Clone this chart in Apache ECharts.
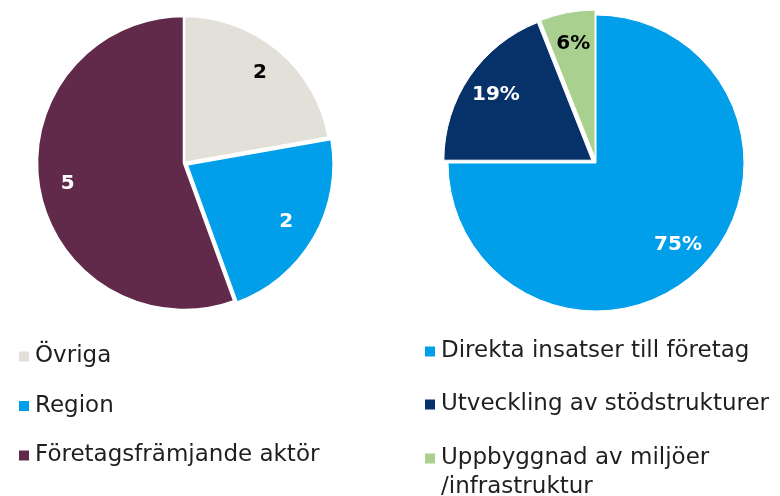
<!DOCTYPE html>
<html>
<head>
<meta charset="utf-8">
<script src="https://cdn.jsdelivr.net/npm/echarts@6/dist/echarts.min.js"></script>
<style>
  html, body { margin: 0; padding: 0; background: #fff; }
  #chart { width: 780px; height: 496px; }
</style>
</head>
<body>
<div id="chart"></div>
<script>
// left pie: number of actors
const leftNames = ["Övriga", "Region", "Företagsfrämjande aktör"];
const leftValues = [2, 2, 5];
// right pie: share of funding (%)
const rightNames = ["Direkta insatser till företag", "Utveckling av stödstrukturer", "Uppbyggnad av miljöer\n/infrastruktur"];
const rightValues = [75, 19, 6];

const leftColors = ["#E2E0D8", "#019FEA", "#612A4B"];
const leftLabelColors = ["#000", "#fff", "#fff"];
const rightColors = ["#019FEA", "#073169", "#A9D08E"];
const rightLabelColors = ["#fff", "#fff", "#000"];

const FONT = "DejaVu Sans";

const myChart = echarts.init(document.getElementById("chart"));

function pieData(names, values, colors, labelColors, selected, transparent) {
    return names.map((name, i) => ({
        name: name,
        value: values[i],
        selected: selected[i],
        itemStyle: { color: transparent ? "rgba(0,0,0,0)" : colors[i] },
        label: { color: labelColors[i] },
    }));
}

// the real slices
function slices(center, radius, data, border, offset) {
    return {
        type: "pie",
        center: center,
        radius: radius,
        startAngle: 90,
        clockwise: true,
        selectedMode: "multiple",
        selectedOffset: offset,
        silent: true,
        animation: false,
        itemStyle: { borderColor: "#fff", borderWidth: border },
        label: { show: false },
        labelLine: { show: false },
        emphasis: { disabled: true },
        data: data,
    };
}

// transparent twin pie, only carries the value labels further out
function labels(center, radius, data, fmt) {
    return {
        type: "pie",
        center: center,
        radius: radius,
        startAngle: 90,
        clockwise: true,
        selectedMode: "multiple",
        selectedOffset: 5,
        silent: true,
        animation: false,
        legendHoverLink: false,
        itemStyle: { borderWidth: 0 },
        label: {
            show: true,
            position: "inside",
            formatter: fmt,
            fontFamily: FONT,
            fontWeight: "bold",
            fontSize: 20,
        },
        labelLine: { show: false },
        emphasis: { disabled: true },
        data: data,
    };
}

const legendText = { fontFamily: FONT, fontSize: 23, color: "#1f1f1f", lineHeight: 25 };

const option = {
    backgroundColor: "#fff",
    legend: [
        {
            orient: "vertical",
            left: 17,
            top: 344,
            padding: 0,
            itemWidth: 12,
            itemHeight: 12,
            itemGap: 24.5,
            icon: "rect",
            selectedMode: false,
            textStyle: legendText,
            data: leftNames,
        },
        {
            orient: "vertical",
            left: 423,
            top: 339,
            padding: 0,
            itemWidth: 12,
            itemHeight: 12,
            itemGap: 28,
            icon: "rect",
            selectedMode: false,
            textStyle: legendText,
            data: rightNames.slice(0, 2),
        },
        {
            // third item wraps; a leading empty line keeps its first line level with the icon
            orient: "vertical",
            left: 423,
            top: 415,
            padding: 0,
            itemWidth: 12,
            itemHeight: 12,
            icon: "rect",
            selectedMode: false,
            textStyle: Object.assign({}, legendText, { lineHeight: 29 }),
            formatter: (name) => "\n" + name,
            data: rightNames.slice(2),
        },
    ],
    series: [
        slices([184, 163], 147, pieData(leftNames, leftValues, leftColors, leftLabelColors, [false, true, false], false), 2.5, 3),
        slices([596, 163], 148, pieData(rightNames, rightValues, rightColors, rightLabelColors, [false, true, true], false), 1, 5),
        labels([184, 163], 230, pieData(leftNames, leftValues, leftColors, leftLabelColors, [false, false, false], true), "{c}"),
        labels([596, 163], 226, pieData(rightNames, rightValues, rightColors, rightLabelColors, [false, true, true], true), "{c}%"),
    ],
};

myChart.setOption(option);
</script>
</body>
</html>
